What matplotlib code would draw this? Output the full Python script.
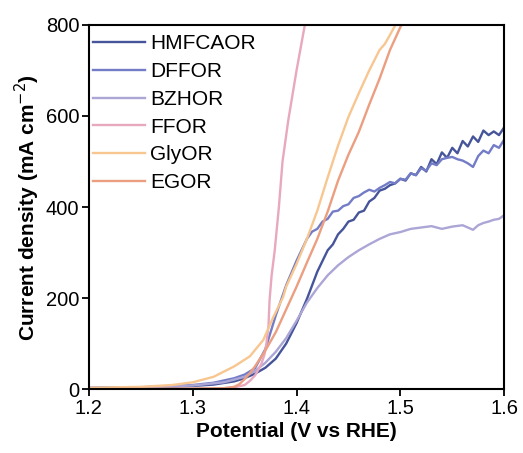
import matplotlib.pyplot as plt

plt.rcParams['font.family'] = ['Liberation Sans', 'DejaVu Sans']

# LSV curves for each oxidation reaction (potential in V vs RHE, current density in mA cm-2)
v_hmfcaor = [1.20, 1.25, 1.28, 1.30, 1.32, 1.34, 1.35, 1.36, 1.37, 1.38, 1.39, 1.40, 1.41,
             1.42, 1.43, 1.435, 1.44, 1.445, 1.45, 1.455, 1.46, 1.465, 1.47, 1.475, 1.48,
             1.485, 1.49, 1.495, 1.50, 1.505, 1.51, 1.515, 1.52, 1.525, 1.53, 1.535, 1.54,
             1.545, 1.55, 1.555, 1.56, 1.565, 1.57, 1.575, 1.58, 1.585, 1.59, 1.595, 1.60]
j_hmfcaor = [3, 4, 5, 7, 10, 17, 24, 34, 47, 67, 100, 145, 198,
             258, 305, 318, 340, 352, 368, 372, 388, 392, 412, 420, 436,
             440, 448, 452, 462, 458, 474, 470, 488, 478, 505, 494, 520,
             508, 530, 518, 545, 533, 555, 543, 568, 558, 566, 558, 575]

v_dffor = [1.20, 1.25, 1.30, 1.32, 1.34, 1.35, 1.36, 1.37, 1.375, 1.38, 1.39, 1.40, 1.41,
           1.415, 1.42, 1.425, 1.43, 1.435, 1.44, 1.445, 1.45, 1.455, 1.46, 1.465, 1.47,
           1.475, 1.48, 1.485, 1.49, 1.495, 1.50, 1.505, 1.51, 1.515, 1.52, 1.525, 1.53,
           1.535, 1.54, 1.545, 1.55, 1.555, 1.56, 1.565, 1.57, 1.575, 1.58, 1.585, 1.59,
           1.595, 1.60]
j_dffor = [2, 4, 9, 14, 24, 32, 46, 88, 125, 162, 228, 282, 330,
           346, 352, 368, 374, 390, 392, 402, 406, 420, 424, 432, 438,
           434, 442, 448, 455, 452, 462, 460, 474, 470, 485, 480, 496,
           492, 505, 508, 510, 505, 502, 496, 488, 512, 524, 518, 536,
           530, 548]

v_bzhor = [1.20, 1.25, 1.30, 1.33, 1.35, 1.36, 1.37, 1.38, 1.39, 1.40, 1.41, 1.42, 1.43,
           1.44, 1.45, 1.46, 1.47, 1.48, 1.49, 1.50, 1.51, 1.52, 1.53, 1.54, 1.55, 1.56,
           1.565, 1.57, 1.575, 1.58, 1.585, 1.59, 1.595, 1.60]
j_bzhor = [2, 4, 8, 15, 27, 40, 58, 82, 112, 150, 190, 222, 250,
           272, 290, 305, 318, 330, 340, 345, 352, 355, 358, 352, 357, 360,
           355, 350, 360, 365, 368, 372, 374, 382]

v_ffor = [1.20, 1.30, 1.33, 1.34, 1.35, 1.355, 1.36, 1.363, 1.366, 1.369, 1.371, 1.373,
          1.374, 1.376, 1.379, 1.383, 1.3865, 1.392, 1.40, 1.408, 1.412]
j_ffor = [0, 1, 2, 4, 9, 18, 30, 42, 55, 75, 100, 140,
          195, 250, 305, 400, 500, 590, 700, 800, 850]

v_glyor = [1.20, 1.25, 1.28, 1.30, 1.32, 1.34, 1.355, 1.368, 1.377, 1.387, 1.39, 1.40,
           1.41, 1.42, 1.43, 1.44, 1.45, 1.46, 1.47, 1.48, 1.485, 1.49, 1.50]
j_glyor = [3, 5, 9, 15, 27, 50, 72, 108, 155, 202, 225, 275,
           330, 392, 465, 535, 598, 650, 700, 745, 758, 778, 820]

v_egor = [1.20, 1.30, 1.33, 1.34, 1.345, 1.35, 1.355, 1.36, 1.37, 1.38, 1.39, 1.40,
          1.41, 1.42, 1.43, 1.44, 1.45, 1.46, 1.47, 1.48, 1.49, 1.50, 1.51]
j_egor = [0, 1, 2, 5, 11, 22, 35, 50, 85, 125, 175, 225,
          278, 330, 390, 458, 515, 565, 625, 682, 745, 795, 840]

series = [
    ('HMFCAOR', v_hmfcaor, j_hmfcaor, '#46559a'),
    ('DFFOR', v_dffor, j_dffor, '#737cc6'),
    ('BZHOR', v_bzhor, j_bzhor, '#aba6d6'),
    ('FFOR', v_ffor, j_ffor, '#e8a8be'),
    ('GlyOR', v_glyor, j_glyor, '#f8c690'),
    ('EGOR', v_egor, j_egor, '#ec9e80'),
]

fig = plt.figure(figsize=(5.23, 4.53), dpi=100)
ax = fig.add_axes([0.170, 0.141, 0.794, 0.804])

for name, v, j, c in series:
    ax.plot(v, j, color=c, lw=1.7, label=name)

ax.set_xlim(1.2, 1.6)
ax.set_ylim(0, 800)
ax.set_xticks([1.2, 1.3, 1.4, 1.5, 1.6])
ax.set_yticks([0, 200, 400, 600, 800])
ax.tick_params(direction='out', length=5, width=1.3, labelsize=14.5, pad=2)
for s in ax.spines.values():
    s.set_linewidth(1.5)

ax.set_xlabel('Potential (V vs RHE)', fontsize=15, fontweight='bold', labelpad=3)
ax.set_ylabel('Current density (mA cm$^{-2}$)', fontsize=15, fontweight='bold', labelpad=3)

ax.legend(loc='upper left', frameon=False, fontsize=15, handlelength=2.5,
          handletextpad=0.25, labelspacing=0.42, borderaxespad=0,
          bbox_to_anchor=(-0.01, 0.997))

fig.savefig('out.png', dpi=100)
